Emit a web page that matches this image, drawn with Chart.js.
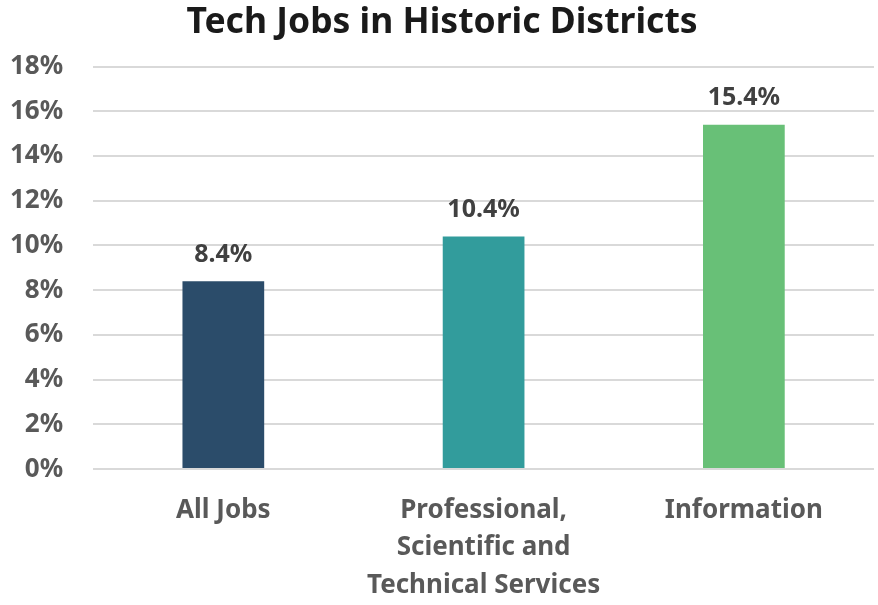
<!DOCTYPE html>
<html>
<head>
<meta charset="utf-8">
<script src="https://cdn.jsdelivr.net/npm/chart.js@4.4.0/dist/chart.umd.min.js"></script>
<style>
  html, body { margin: 0; padding: 0; background: #fff; }
  #wrap { width: 878px; height: 605px; }
</style>
</head>
<body>
<div id="wrap"><canvas id="jobsChart" width="878" height="605"></canvas></div>
<script>
// Data
const categories = [['All Jobs'], ['Professional,', 'Scientific and', 'Technical Services'], ['Information']];
const shares = [8.4, 10.4, 15.4];
const barColors = ['#2B4C6A', '#329C9C', '#68C077'];
const yTicks = [0, 2, 4, 6, 8, 10, 12, 14, 16, 18];

// small inline plugin: value labels above the bars
const valueLabels = {
    id: 'valueLabels',
    afterDatasetsDraw(chart) {
        const ctx = chart.ctx;
        const meta = chart.getDatasetMeta(0);
        ctx.save();
        ctx.font = 'bold 25px "Noto Sans"';
        ctx.fillStyle = '#404040';
        ctx.textAlign = 'center';
        ctx.textBaseline = 'bottom';
        meta.data.forEach(function (bar, i) {
            ctx.fillText(shares[i].toFixed(1) + '%', bar.x, bar.y - 14);
        });
        ctx.restore();
    }
};

new Chart(document.getElementById('jobsChart').getContext('2d'), {
    type: 'bar',
    data: {
        labels: categories,
        datasets: [{
            data: shares,
            backgroundColor: barColors,
            barPercentage: 0.314,
            categoryPercentage: 1.0
        }]
    },
    options: {
        responsive: false,
        animation: false,
        layout: { padding: { top: 0, right: 4, bottom: 0, left: 10 } },
        plugins: {
            legend: { display: false },
            tooltip: { enabled: false },
            title: {
                display: true,
                text: 'Tech Jobs in Historic Districts',
                color: '#1a1a1a',
                font: { family: 'Noto Sans', size: 35.5, weight: 'bold', lineHeight: 1.2 },
                padding: { top: 2, bottom: 22 }
            }
        },
        scales: {
            y: {
                min: 0,
                max: 18,
                afterBuildTicks(axis) { axis.ticks = yTicks.map(v => ({ value: v })); },
                // tick padding is reserved on both sides of the labels; drop the outer one
                afterFit(axis) { axis.width -= 30; },
                border: { display: false },
                grid: { color: '#d9d9d9', lineWidth: 2, drawTicks: false },
                ticks: {
                    padding: 30,
                    color: '#595959',
                    font: { family: 'Noto Sans', size: 26, weight: 'bold' },
                    callback: v => v + '%'
                }
            },
            x: {
                afterFit(axis) { axis.height -= 22; },
                border: { display: false },
                grid: { display: false, drawTicks: false },
                ticks: {
                    padding: 22,
                    color: '#595959',
                    maxRotation: 0,
                    font: { family: 'Noto Sans', size: 26, weight: 'bold', lineHeight: 1.46 }
                }
            }
        }
    },
    plugins: [valueLabels]
});
</script>
</body>
</html>
